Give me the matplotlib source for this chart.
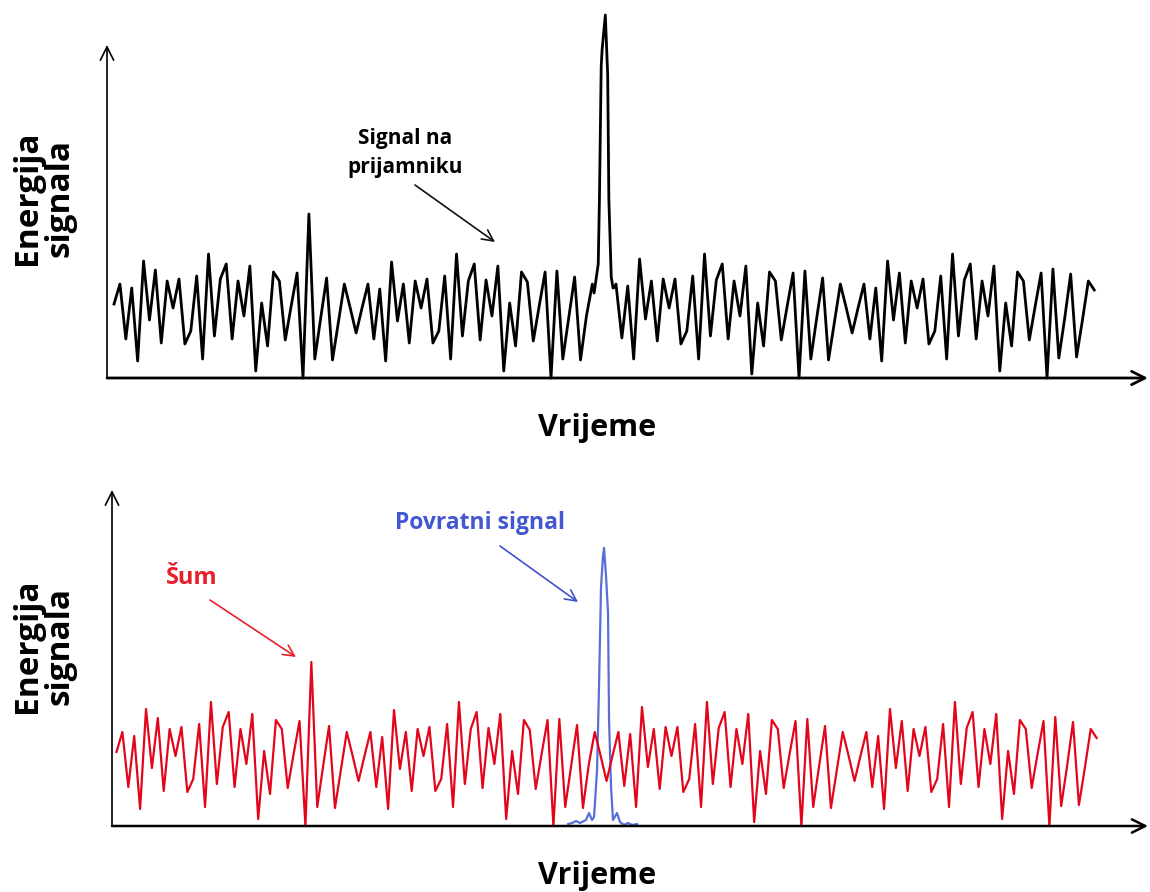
import numpy as np
import matplotlib
matplotlib.use('Agg')
import matplotlib.pyplot as plt

plt.rcParams['font.family'] = ['Open Sans', 'DejaVu Sans']

# --- data (arbitrary energy units, time in samples) ---
# background noise, one value per sample (same noise in both panels)
noise = [
    74, 94, 39, 90, 17, 117, 58, 108, 35, 97, 70, 99, 34, 47, 102, 19,
    124, 42, 99, 114, 39, 97, 62, 112, 7, 75, 32, 106, 97, 38, 72, 105,
    0, 164, 19, 60, 100, 18, 56, 94, 70, 45, 70, 94, 39, 89, 17, 116,
    57, 94, 35, 97, 70, 99, 35, 47, 102, 19, 124, 42, 97, 114, 38, 98,
    62, 112, 7, 75, 32, 106, 96, 37, 72, 106,
    0, 107, 19, 60, 101, 18, 62, 94, 70, 45, 70, 94, 40, 92, 19, 119,
    59, 97, 37, 99, 70, 99, 34, 47, 102, 19, 124, 42, 98, 114, 39, 97,
    62, 112, 4, 75, 32, 106, 97, 38, 72, 105,
    0, 107, 19, 60, 100, 18, 56, 94, 70, 45, 70, 94, 39, 90, 17, 117,
    58, 105, 35, 97, 70, 99, 34, 47, 102, 19, 124, 42, 98, 114, 39, 97,
    62, 112, 7, 75, 32, 106, 97, 38, 72, 105,
    0, 109, 20, 60, 104, 21, 58, 97, 88,
]
t = np.arange(len(noise))

# received signal around the echo (top panel)
rx_peak_t = [81.3, 82.0, 82.2, 82.5, 82.65, 83.0, 83.2, 83.6, 83.8, 84.2, 84.5, 84.9]
rx_peak = [85, 114, 178, 311, 328, 350, 363, 303, 178, 101, 90, 91]

# returned echo alone (bottom panel)
echo_t = [76.5, 77.15, 77.83, 78.51, 79.52, 80.03, 80.54, 80.88, 81.39, 81.72,
          82.06, 82.4, 82.57, 82.91, 83.25, 83.42, 83.76, 84.09, 84.77, 85.28,
          85.96, 86.64, 87.32, 88.16]
echo = [2, 3, 5, 3, 6, 13, 6, 9, 56, 139, 239, 270, 278, 250, 213, 106, 39, 6,
        13, 4, 1, 3, 1, 2]

# top line = noise with the echo window replaced by the received peak
noise = np.array(noise, dtype=float)
keep = (t <= 81) | (t >= 85)
rx_t = np.concatenate([t[keep], rx_peak_t])
rx = np.concatenate([noise[keep], rx_peak])
order = np.argsort(rx_t)
rx_t, rx = rx_t[order], rx[order]

W, H = 1150, 892
fig = plt.figure(figsize=(W / 100, H / 100), dpi=100)

def axes_px(x0, x1, ybase, ytop):
    return fig.add_axes([x0 / W, (H - ybase) / H, (x1 - x0) / W, (ybase - ytop) / H])

def draw_axes(ax, xlw):
    ax.axis('off')
    ax.annotate('', xy=(1, 0), xytext=(0, 0), xycoords='axes fraction',
                arrowprops=dict(arrowstyle='->', lw=xlw, color='black',
                                mutation_scale=24, shrinkA=0, shrinkB=0))
    ax.annotate('', xy=(0, 1), xytext=(0, 0), xycoords='axes fraction',
                arrowprops=dict(arrowstyle='->', lw=1.2, color='black',
                                mutation_scale=24, shrinkA=0, shrinkB=0))

# top panel
ax1 = axes_px(107, 1148, 378, 45)
ax1.set_xlim(-1.19, 175.1)
ax1.set_ylim(0, 333)
ax1.plot(rx_t, rx, color='black', lw=2.0, clip_on=False)
draw_axes(ax1, 2.0)

# bottom panel
ax2 = axes_px(112, 1148, 826, 490)
ax2.set_xlim(-0.76, 174.7)
ax2.set_ylim(0, 336)
ax2.plot(echo_t, echo, color='#5a6fd6', lw=1.6, clip_on=False)
ax2.plot(t, noise, color='#e2061c', lw=1.6, clip_on=False)
draw_axes(ax2, 1.8)

# labels
def px(x, y):
    return x / W, (H - y) / H

for yc in (198, 646):
    fig.text(*px(44, yc), 'Energija\nsignala', rotation=90, ha='center', va='center',
             fontsize=24, fontweight='bold', linespacing=1.0)
for yc in (428, 876):
    fig.text(*px(597, yc), 'Vrijeme', ha='center', va='center',
             fontsize=22, fontweight='bold')

fig.text(*px(405, 153), 'Signal na\nprijamniku', ha='center', va='center',
         fontsize=15, fontweight='bold', linespacing=1.45)
fig.text(*px(192, 578), 'Šum', ha='center', va='center', color='#e8202a',
         fontsize=17, fontweight='bold')
fig.text(*px(480, 523), 'Povratni signal', ha='center', va='center', color='#4457d2',
         fontsize=16.5, fontweight='bold')

def pointer(x0, y0, x1, y1, color):
    fig.add_artist(matplotlib.patches.FancyArrowPatch(
        px(x0, y0), px(x1, y1), transform=fig.transFigure, arrowstyle='->',
        color=color, lw=1.2, mutation_scale=20, shrinkA=0, shrinkB=0))

pointer(415, 185, 495, 242, '#111111')
pointer(210, 600, 296, 657, '#e8202a')
pointer(500, 546, 578, 602, '#3f52cc')

fig.savefig('out.png', dpi=100)
